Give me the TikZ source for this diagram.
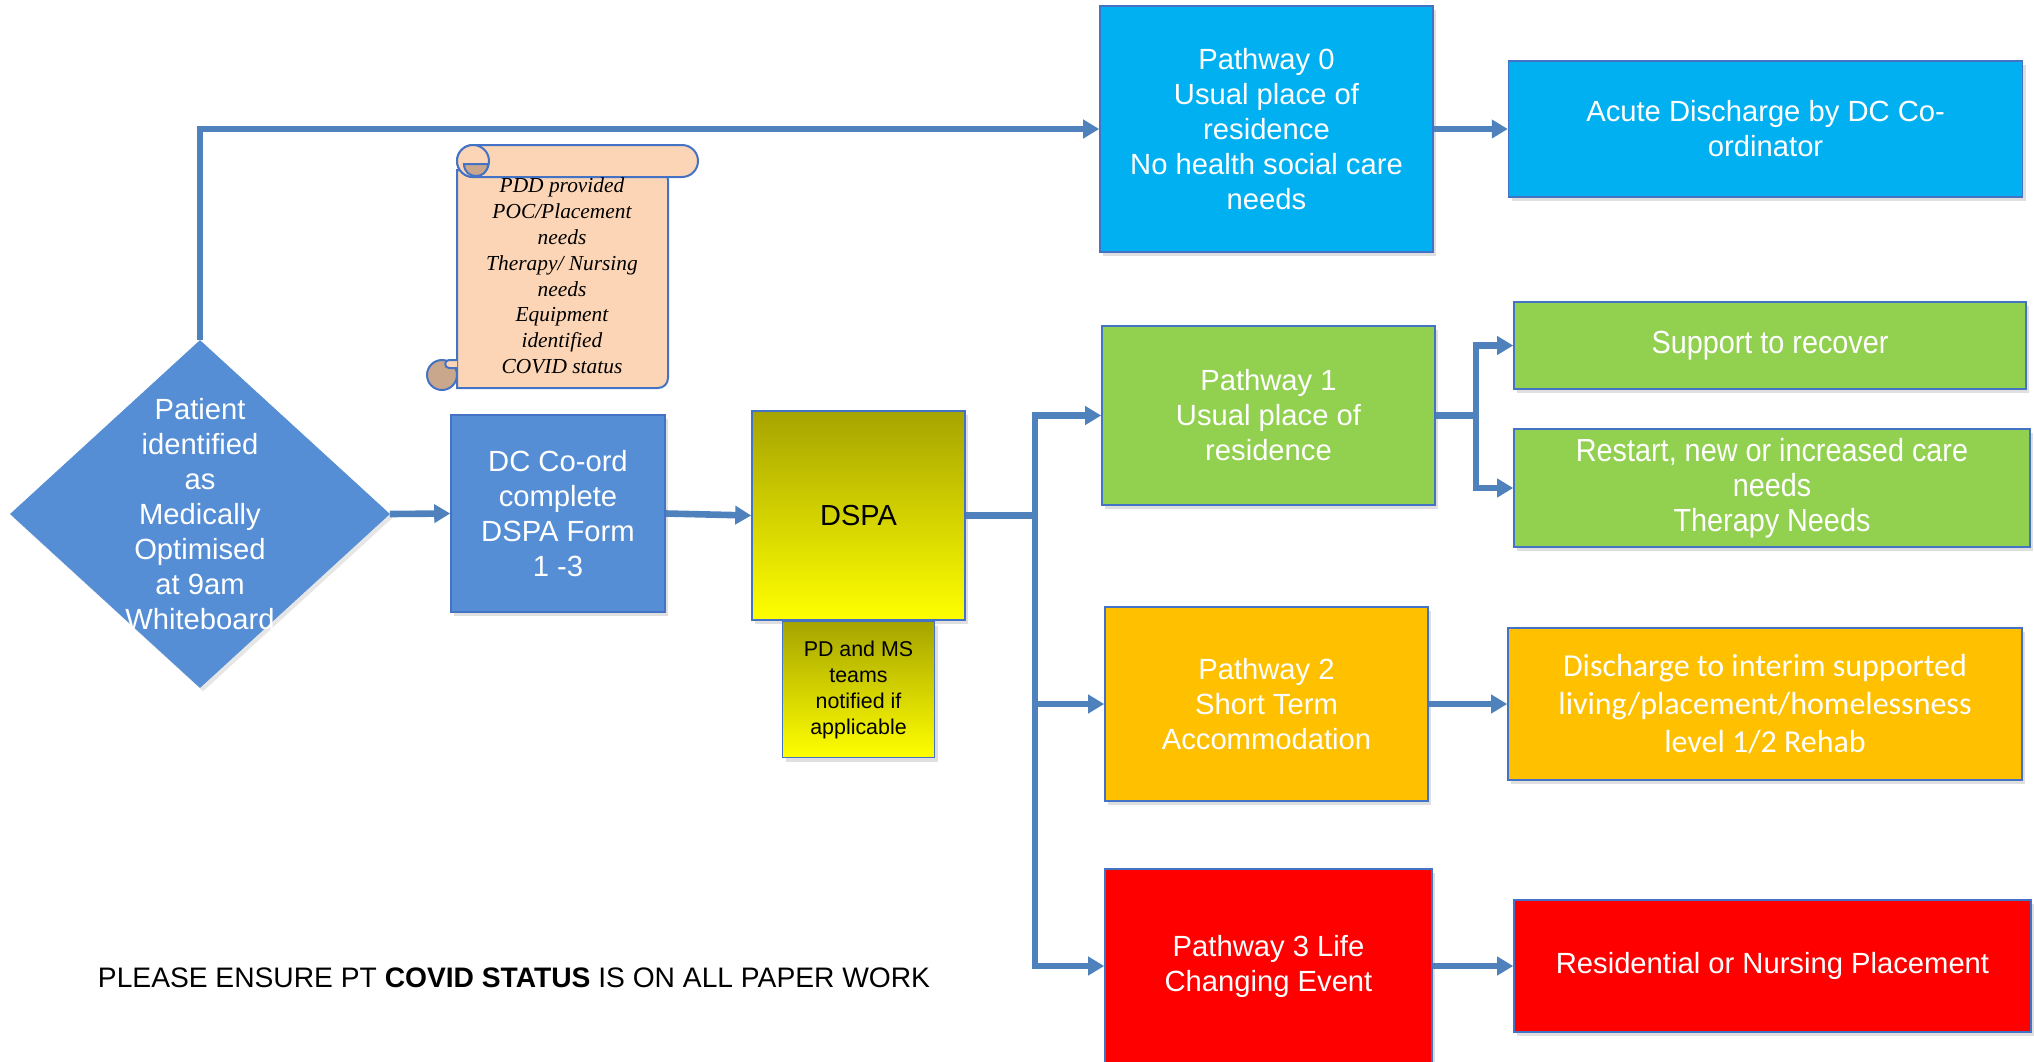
\documentclass[tikz,border=0pt]{standalone}
\usepackage{fontspec}
\setmainfont{Liberation Sans}
\newfontfamily\calibrifont{Carlito}
\newfontfamily\narrowfont[FakeStretch=0.9]{Liberation Sans}
\newfontfamily\timesfont{Liberation Serif}
\usetikzlibrary{shapes.geometric,arrows.meta,positioning,shadows}

\definecolor{linkblue}{RGB}{79,129,189}
\definecolor{boxline}{RGB}{68,114,196}
\definecolor{diamblue}{RGB}{85,142,213}
\definecolor{pathcyan}{RGB}{0,176,240}
\definecolor{pathgreen}{RGB}{146,208,80}
\definecolor{pathorange}{RGB}{255,192,0}
\definecolor{pathred}{RGB}{255,0,0}
\definecolor{dspaolive}{RGB}{166,164,0}
\definecolor{dspayellow}{RGB}{255,255,0}
\definecolor{scrollpeach}{RGB}{251,213,181}
\definecolor{curltan}{RGB}{201,167,141}

\begin{document}
\begin{tikzpicture}[
    x=0.5pt, y=-0.5pt,
    mainfont/.style={font=\fontsize{14.6}{17.5}\selectfont},
    box/.style={rectangle, draw=boxline, line width=0.8pt, align=center, inner sep=2pt, text=white, mainfont, drop shadow={opacity=0.25, shadow xshift=1.5pt, shadow yshift=-2pt}},
    cyanbox/.style={box, fill=pathcyan},
    greenbox/.style={box, fill=pathgreen},
    orangebox/.style={box, fill=pathorange},
    redbox/.style={box, fill=pathred},
    dspabox/.style={box, text=black, top color=dspaolive, bottom color=dspayellow},
    narrowtext/.style={font=\narrowfont\fontsize{16}{17.5}\selectfont},
    arrow/.style={-{Triangle[length=8pt,width=9pt]}, line width=3.3pt, draw=linkblue},
    link/.style={line width=3.3pt, draw=linkblue},
    scrollline/.style={draw=boxline, line width=1pt}
]
\useasboundingbox (0,0) rectangle (2034,1061);

% left side
\node[diamond, fill=diamblue, draw=diamblue, minimum width=189.5pt, minimum height=173.5pt, inner sep=0pt, drop shadow={opacity=0.2, shadow xshift=1.5pt, shadow yshift=-2pt}] (patient) at (200,514) {};
\node[text=white, mainfont, align=center] (patienttext) at (patient.center) {Patient\\identified\\as\\Medically\\Optimised\\at 9am\\Whiteboard};
\node[box, fill=diamblue, minimum width=107pt, minimum height=98.5pt] (dccoord) at (558,513.5) {DC Co-ord\\complete\\DSPA Form\\1 -3};
\node[dspabox, minimum width=106.5pt, minimum height=104.5pt, font=\fontsize{14.5}{17}\selectfont] (dspa) at (858.5,515.5) {DSPA};
\node[dspabox, minimum width=76pt, minimum height=68pt, font=\fontsize{10.7}{13}\selectfont, below=0pt of dspa] (pdms) {PD and MS\\teams\\notified if\\applicable};

% scroll
\filldraw[fill=scrollpeach, scrollline] (457,170) -- (457,388) [rounded corners=5pt] -- (668,388) -- (668,170) [sharp corners] -- cycle;
\filldraw[fill=curltan, scrollline] (442,375) circle[radius=15];
\filldraw[fill=scrollpeach, scrollline] (457,360) -- (449,360) .. controls (444,360) and (444,368) .. (449,368) -- (457,368);
\filldraw[fill=scrollpeach, scrollline, rounded corners=8pt] (457,145) rectangle (698,177);
\filldraw[fill=scrollpeach, scrollline] (473,161) circle[radius=16];
\filldraw[fill=curltan, scrollline] (464,164) .. controls (464,180) and (488,180) .. (488,164) -- cycle;
\node[font=\timesfont\itshape\fontsize{10.7}{12.9}\selectfont, align=center] (scrolltext) at (562,276) {PDD provided\\POC/Placement\\needs\\Therapy/ Nursing\\needs\\Equipment\\identified\\COVID status};

% pathways
\node[cyanbox, minimum width=166.5pt, minimum height=123pt] (pathway0) at (1266.5,129) {Pathway 0\\Usual place of\\residence\\No health social care\\needs};
\node[cyanbox, minimum width=257pt, minimum height=68pt, right=37pt of pathway0] (acute) {Acute Discharge by DC Co-\\ordinator};
\node[greenbox, minimum width=166.5pt, minimum height=89.5pt] (pathway1) at (1268.5,415.5) {Pathway 1\\Usual place of\\residence};
\node[greenbox, narrowtext, minimum width=256pt, minimum height=43.5pt] (support) at (1770,345.5) {Support to recover};
\node[greenbox, narrowtext, minimum width=258pt, minimum height=59pt] (restart) at (1772,488) {Restart, new or increased care\\needs\\Therapy Needs};
\node[orangebox, minimum width=161.5pt, minimum height=97pt] (pathway2) at (1266.5,704) {Pathway 2\\Short Term\\Accommodation};
\node[orangebox, font=\calibrifont\fontsize{16}{18.8}\selectfont, minimum width=257pt, minimum height=76pt] (discharge) at (1765,704) {Discharge to interim supported\\living/placement/homelessness\\level 1/2 Rehab};
\node[redbox, minimum width=163.5pt, minimum height=97pt] (pathway3) at (1268.5,966) {Pathway 3 Life\\Changing Event};
\node[redbox, minimum width=258.5pt, minimum height=66pt] (residential) at (1772.5,966) {Residential or Nursing Placement};

\node[font=\fontsize{14.1}{16}\selectfont] (covidnote) at (514,978) {PLEASE ENSURE PT \textbf{COVID STATUS} IS ON ALL PAPER WORK};

% connectors
\coordinate (bus) at ([xshift=34.5pt]dspa.east);
\coordinate (fork) at ([xshift=20pt]pathway1.east);
\draw[arrow] (patient.north) |- (pathway0.west);
\draw[arrow] (pathway0.east) -- (acute.west);
\draw[arrow] (patient.east) -- (dccoord.west);
\draw[arrow] (dccoord.east) -- (dspa.west);
\draw[link] (dspa.east) -- (bus);
\draw[arrow] (bus) |- (pathway1.west);
\draw[arrow] (bus) |- (pathway2.west);
\draw[arrow] (bus) |- (pathway3.west);
\draw[link] (pathway1.east) -- (fork);
\draw[arrow] (fork) |- (support.west);
\draw[arrow] (fork) |- (restart.west);
\draw[arrow] (pathway2.east) -- (discharge.west);
\draw[arrow] (pathway3.east) -- (residential.west);

\end{tikzpicture}
\end{document}
